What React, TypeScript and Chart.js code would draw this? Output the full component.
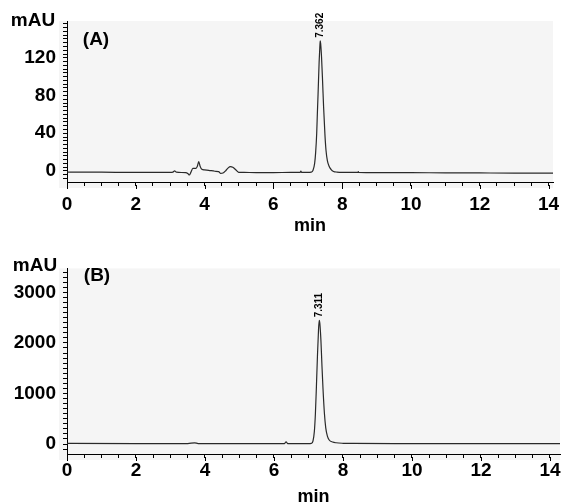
import React, { useEffect, useRef } from "react";
import { Chart, registerables } from "chart.js";
Chart.register(...registerables);

// ---------- Data ----------
const timeA = [0, 1, 2, 3.0, 3.08, 3.13, 3.18, 3.45, 3.52, 3.556, 3.6, 3.66, 3.75, 3.79, 3.83, 3.87, 3.92, 4.0, 4.12, 4.3, 4.41, 4.46, 4.55, 4.62, 4.68, 4.75, 4.82, 4.9, 4.99, 5.15, 5.5, 6.0, 6.5, 6.78, 6.8, 6.82, 7.0, 7.1, 7.15, 7.2, 7.23, 7.26, 7.28, 7.3, 7.33, 7.35, 7.362, 7.375, 7.4, 7.43, 7.46, 7.5, 7.53, 7.57, 7.62, 7.68, 7.75, 7.85, 8.0, 8.46, 8.47, 8.48, 9, 10, 11, 12, 13, 14.13];
const signalA = [-1.2, -1.3, -1.6, -1.5, -1.2, 0, -1.3, -1.8, -3, -4.3, -1.5, 2.8, 2.8, 5, 9.9, 5, 1.8, 1.2, 0.7, -0.3, -0.7, -2.5, -1.8, 0.5, 3, 4.6, 4, 1.5, -1.4, -1.6, -1.7, -1.7, -1.6, -1.6, -0.2, -1.6, -1.6, -1.3, 0.5, 8, 20, 40, 62, 82, 115, 131, 138, 135, 121, 96, 68, 38, 22, 11, 5, 1.5, -0.5, -1.2, -1.5, -1.5, -0.6, -1.5, -1.7, -1.8, -2, -2.1, -2.2, -2.2];

const timeB = [0, 2, 3.5, 3.7, 3.8, 5, 6.3, 6.35, 6.4, 7.0, 7.08, 7.13, 7.17, 7.2, 7.23, 7.26, 7.29, 7.311, 7.33, 7.36, 7.39, 7.42, 7.46, 7.5, 7.55, 7.6, 7.7, 7.8, 8.0, 8.3, 10, 12, 14.29];
const signalB = [12, 10, 8, 25, 10, 8, 8, 45, 8, 8, 12, 60, 250, 600, 1150, 1750, 2250, 2446, 2380, 2050, 1550, 1100, 620, 320, 150, 80, 40, 25, 15, 12, 10, 10, 10];

const peakTimesA = [7.362];
const peakHeightsA = [138];
const peakLabelsA = ["7.362"];
const peakTimesB = [7.311];
const peakHeightsB = [2446];
const peakLabelsB = ["7.311"];

const xLabelTicks = [0, 2, 4, 6, 8, 10, 12, 14];
const yLabelTicksA = [0, 40, 80, 120];
const yLabelTicksB = [0, 1000, 2000, 3000];

const FONT = '"Liberation Sans", Arial, Helvetica, sans-serif';

type Panel = {
  time: number[];
  signal: number[];
  xMax: number;
  yMin: number;
  yMax: number;
  yLabels: number[];
  yMinorStep: number;
  width: number;
  height: number;
  top: number;
  padRight: number;
  xAxisHeight: number;
  xTickPad: number;
  titlePad: number;
  unitPos: [number, number];
  tag: string;
  tagPos: [number, number];
  peakTimes: number[];
  peakHeights: number[];
  peakLabels: string[];
};

function minorRange(min: number, max: number, step: number) {
  const out: number[] = [];
  const start = Math.ceil(min / step) * step;
  for (let v = start; v <= max + 1e-9; v += step) out.push(Math.round(v * 1000) / 1000);
  return out;
}

function ChromPanel({ p }: { p: Panel }) {
  const ref = useRef<HTMLCanvasElement | null>(null);
  useEffect(() => {
    if (!ref.current) return;
    const bgPlugin = {
      id: "bg",
      beforeDraw(chart: any) {
        const { ctx, chartArea } = chart;
        ctx.save();
        ctx.fillStyle = "#f5f5f5";
        ctx.fillRect(chartArea.left - 8, chartArea.top, chartArea.right - chartArea.left + 8, chartArea.bottom - chartArea.top + 6);
        ctx.restore();
      },
    };
    const textPlugin = {
      id: "texts",
      afterDraw(chart: any) {
        const { ctx, chartArea } = chart;
        const xs = chart.scales.x;
        const ys = chart.scales.y;
        ctx.save();
        // longer marks at the labelled x ticks
        ctx.strokeStyle = "#000";
        ctx.lineWidth = 1;
        xLabelTicks.forEach((v) => {
          const px = Math.round(xs.getPixelForValue(v)) + 0.5;
          ctx.beginPath();
          ctx.moveTo(px, chartArea.bottom + 3);
          ctx.lineTo(px, chartArea.bottom + 7);
          ctx.stroke();
        });
        ctx.fillStyle = "#000";
        ctx.font = `bold 19px ${FONT}`;
        ctx.textAlign = "center";
        ctx.textBaseline = "middle";
        ctx.fillText("mAU", p.unitPos[0], p.unitPos[1]);
        ctx.font = `bold 19px ${FONT}`;
        ctx.fillText(p.tag, p.tagPos[0], p.tagPos[1]);
        ctx.font = `bold 10px ${FONT}`;
        p.peakTimes.forEach((t, i) => {
          const px = xs.getPixelForValue(t);
          const py = ys.getPixelForValue(p.peakHeights[i]);
          ctx.save();
          ctx.translate(px, py - 3);
          ctx.rotate(-Math.PI / 2);
          ctx.textAlign = "left";
          ctx.textBaseline = "middle";
          ctx.fillText(p.peakLabels[i], 0, 0);
          ctx.restore();
        });
        ctx.restore();
      },
    };
    const chart = new Chart(ref.current, {
      type: "line",
      data: {
        datasets: [
          {
            data: p.time.map((t, i) => ({ x: t, y: p.signal[i] })),
            borderColor: "#2a2a2a",
            borderWidth: 1.2,
            pointRadius: 0,
            fill: false,
            cubicInterpolationMode: "monotone",
          },
        ],
      },
      options: {
        animation: false,
        responsive: false,
        maintainAspectRatio: false,
        events: [],
        layout: { padding: { top: p.top, left: 0, right: p.padRight, bottom: 0 } },
        plugins: { legend: { display: false }, tooltip: { enabled: false } },
        scales: {
          x: {
            type: "linear",
            min: 0,
            max: p.xMax,
            afterBuildTicks: (s: any) => {
              s.ticks = minorRange(0, 14, 0.5).map((v) => ({ value: v }));
            },
            afterFit: (s: any) => {
              s.height = p.xAxisHeight;
              s.paddingRight = 0;
            },
            ticks: {
              autoSkip: false,
              maxRotation: 0,
              minRotation: 0,
              padding: p.xTickPad,
              color: "#000",
              font: { family: FONT, size: 19, weight: "bold" },
              callback: (v: any) => (xLabelTicks.includes(Number(v)) ? String(v) : ""),
            },
            grid: { drawOnChartArea: false, drawTicks: true, tickLength: 4, color: "#000", tickColor: "#000" },
            border: { display: true, color: "#000", width: 1 },
            title: {
              display: true,
              text: "min",
              color: "#000",
              font: { family: FONT, size: 18, weight: "bold", lineHeight: 1 },
              padding: { top: 0, bottom: p.titlePad },
            },
          },
          y: {
            type: "linear",
            min: p.yMin,
            max: p.yMax,
            afterBuildTicks: (s: any) => {
              s.ticks = minorRange(p.yMin, p.yMax, p.yMinorStep).map((v) => ({ value: v }));
            },
            afterFit: (s: any) => {
              s.width = 67;
            },
            ticks: {
              autoSkip: false,
              padding: 7,
              color: "#000",
              font: { family: FONT, size: 19, weight: "bold" },
              callback: (v: any) => (p.yLabels.includes(Number(v)) ? String(v) : ""),
            },
            grid: { drawOnChartArea: false, drawTicks: true, tickLength: 4, color: "#000", tickColor: "#000" },
            border: { display: true, color: "#000", width: 1 },
          },
        },
      } as any,
      plugins: [bgPlugin, textPlugin],
    });
    return () => chart.destroy();
  }, [p]);
  return <canvas ref={ref} width={p.width} height={p.height} style={{ display: "block", width: p.width, height: p.height }} />;
}

const panelA: Panel = {
  time: timeA,
  signal: signalA,
  xMax: 14.13,
  yMin: -11.7,
  yMax: 159,
  yLabels: yLabelTicksA,
  yMinorStep: 4,
  width: 561,
  height: 250,
  top: 21,
  padRight: 8,
  xAxisHeight: 68,
  xTickPad: 7,
  titlePad: 15,
  unitPos: [33, 21],
  tag: "(A)",
  tagPos: [96, 40],
  peakTimes: peakTimesA,
  peakHeights: peakHeightsA,
  peakLabels: peakLabelsA,
};

const panelB: Panel = {
  time: timeB,
  signal: signalB,
  xMax: 14.29,
  yMin: -197,
  yMax: 3474,
  yLabels: yLabelTicksB,
  yMinorStep: 100,
  width: 561,
  height: 253,
  top: 18,
  padRight: 1,
  xAxisHeight: 49,
  xTickPad: 1,
  titlePad: -3,
  unitPos: [35, 16],
  tag: "(B)",
  tagPos: [97, 26],
  peakTimes: peakTimesB,
  peakHeights: peakHeightsB,
  peakLabels: peakLabelsB,
};

export default function App() {
  return (
    <div style={{ position: "absolute", left: 0, top: 0, width: 561, height: 503, background: "#fff" }}>
      <ChromPanel p={panelA} />
      <ChromPanel p={panelB} />
    </div>
  );
}
